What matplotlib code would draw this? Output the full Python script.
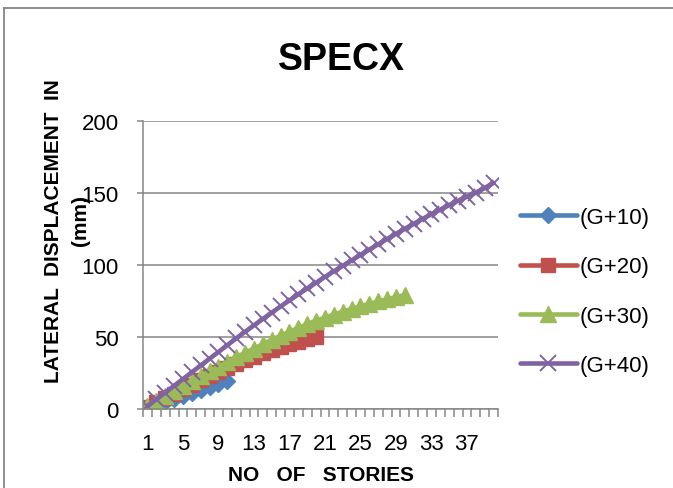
import numpy as np
import matplotlib
matplotlib.use("Agg")
import matplotlib.pyplot as plt
from matplotlib.lines import Line2D

plt.rcParams['font.family'] = ['Liberation Sans', 'DejaVu Sans']

# lateral displacement (mm) per storey
g10 = [0.5, 2.5, 4.6, 6.7, 8.8, 10.9, 13.0, 15.1, 17.3, 19.5]
g20 = [1.5, 4.5, 7.6, 10.7, 13.8, 16.8, 19.8, 22.7, 25.6, 28.4,
       31.1, 33.7, 36.2, 38.6, 40.8, 42.9, 44.8, 46.6, 48.3, 49.8]
g30 = [2.0, 5.5, 9.0, 12.5, 16.0, 19.4, 22.8, 26.1, 29.4, 32.6,
       35.8, 39.0, 42.0, 45.0, 48.0, 50.9, 53.6, 56.3, 58.9, 61.4,
       63.5, 65.6, 67.6, 69.5, 71.3, 73.0, 74.7, 76.2, 77.7, 79.1]
g40 = [2.0, 6.7, 11.4, 16.1, 20.8, 25.5, 30.2, 34.9, 39.6, 44.3,
       49.0, 53.6, 58.1, 62.5, 66.9, 71.2, 75.4, 79.6, 83.7, 87.7,
       91.7, 95.6, 99.4, 103.2, 107.0, 110.7, 114.4, 118.0, 121.6, 125.1,
       128.6, 132.0, 135.3, 138.5, 141.6, 144.6, 147.5, 150.3, 153.5, 157.0]
labels = ['(G+10)', '(G+20)', '(G+30)', '(G+40)']
n_cat = 40
tick_cats = list(range(1, 38, 4))

fig = plt.figure(figsize=(6.73, 4.89), dpi=100)
ax = fig.add_axes([0.2125, 0.1616, 0.5275, 0.5889])

styles = [
    ('#4F81BD', 'D', 8.5),
    ('#C0504D', 's', 10),
    ('#9BBB59', '^', 11),
    ('#8064A2', 'x', 12),
]
for data, lab, (c, m, ms) in zip([g10, g20, g30, g40], labels, styles):
    x = np.arange(1, len(data) + 1)
    mew = 1.4 if m == 'x' else 1
    ax.plot(x, data, color=c, lw=3.3, marker=m, ms=ms, mfc=c, mec=c,
            mew=mew, label=lab, solid_capstyle='round')

ax.set_xlim(0.5, n_cat + 0.5)
ax.set_ylim(0, 200)
ax.set_yticks([0, 50, 100, 150, 200])
ax.set_xticks(tick_cats)
ax.set_xticks(np.arange(0.5, n_cat + 1), minor=True)
ax.yaxis.grid(True, color='#868686', lw=1.1)
ax.set_axisbelow(True)
for s in ['top', 'right']:
    ax.spines[s].set_visible(False)
for s in ['left', 'bottom']:
    ax.spines[s].set_color('#868686')
    ax.spines[s].set_linewidth(1.1)
ax.tick_params(axis='y', length=4.5, color='#868686', width=1.1, pad=13, labelsize=16)
ax.tick_params(axis='x', which='major', length=0, pad=17, labelsize=16)
ax.tick_params(axis='x', which='minor', length=5.5, color='#868686', width=1.1)

fig.text(0.508, 0.877, 'SPECX', fontsize=27, fontweight='bold', ha='center', va='center')
fig.text(0.477, 0.027, 'NO   OF   STORIES', fontsize=15, fontweight='bold', ha='center', va='center')
fig.text(0.079, 0.527, 'LATERAL  DISPLACEMENT  IN', fontsize=15, fontweight='bold',
         rotation=90, ha='center', va='center')
fig.text(0.12, 0.55, '(mm)', fontsize=15, fontweight='bold',
         rotation=90, ha='center', va='center')

ax.legend(loc='center left', bbox_to_anchor=(0.772, 0.402), bbox_transform=fig.transFigure,
          frameon=False, fontsize=16, handlelength=2.6, handletextpad=0.1,
          labelspacing=1.27, borderpad=0, borderaxespad=0)

# chart area border (only left and top are inside the picture)
yb = 1 - 9 / 489
xb = 4 / 673
fig.add_artist(Line2D([xb, xb], [0, yb], color='#868686', lw=1.3, transform=fig.transFigure))
fig.add_artist(Line2D([xb, 1], [yb, yb], color='#868686', lw=1.3, transform=fig.transFigure))

fig.savefig('out.png', dpi=100)
